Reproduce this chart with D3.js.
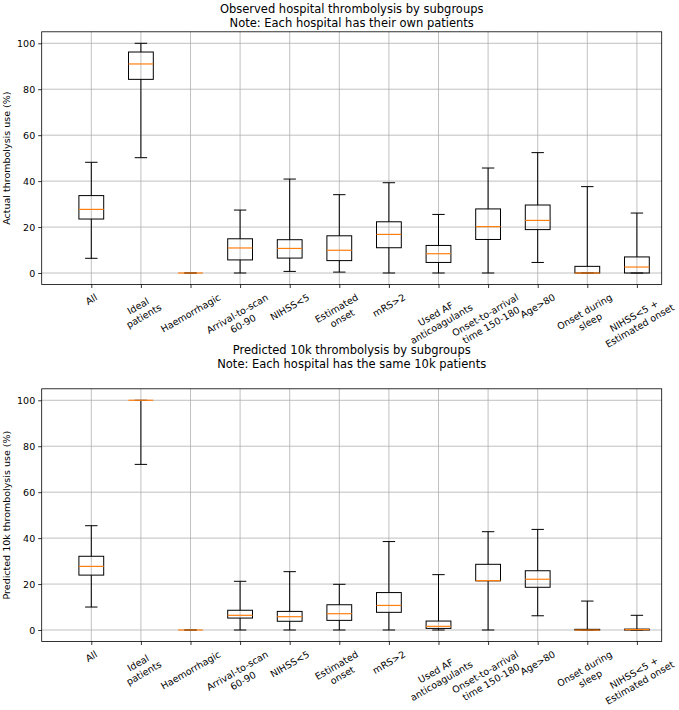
<!DOCTYPE html>
<html>
<head>
<meta charset="utf-8">
<script src="https://cdn.jsdelivr.net/npm/d3@7"></script>
<style>
  body { margin: 0; background: #fff; }
  svg { display: block; font-family: "DejaVu Sans", sans-serif; }
</style>
</head>
<body>
<svg id="chart" width="679" height="710"></svg>
<script>
// ---------------- DATA ----------------
const categories = ["All", "Ideal\npatients", "Haemorrhagic", "Arrival-to-scan\n60-90", "NIHSS<5",
  "Estimated\nonset", "mRS>2", "Used AF\nanticoagulants", "Onset-to-arrival\ntime 150-180",
  "Age>80", "Onset during\nsleep", "NIHSS<5 +\nEstimated onset"];
const yTicks = [0, 20, 40, 60, 80, 100];

// Observed (top)
const obsLow    = [6.4, 50.2, 0, 0,    0.7,  0.4,  0,    0,    0,    4.6,  0,   0];
const obsQ1     = [23.5, 84.3, 0, 5.7, 6.5,  5.4,  11.0, 4.6,  14.6, 18.9, 0,   0];
const obsMedian = [27.7, 91.0, 0, 10.9, 10.7, 9.9, 16.8, 8.4,  20.2, 22.9, 0,   2.6];
const obsQ3     = [33.7, 96.2, 0, 14.9, 14.5, 16.2, 22.3, 12.0, 27.9, 29.6, 2.9, 7.0];
const obsHigh   = [48.2, 100,  0, 27.4, 40.9, 34.1, 39.3, 25.5, 45.7, 52.4, 37.6, 26.1];

// Predicted 10k (bottom)
const predLow    = [10.0, 72.1, 0, 0,   0,   0,    0,    0,    0,    6.2,  0,    0];
const predQ1     = [23.9, 100,  0, 5.2, 3.8, 4.2,  7.7,  0.7,  21.4, 18.6, 0,    0];
const predMedian = [27.7, 100,  0, 6.4, 5.8, 7.1,  10.7, 1.6,  21.5, 22.1, 0,    0.2];
const predQ3     = [32.1, 100,  0, 8.6, 8.1, 11.0, 16.3, 3.9,  28.6, 25.8, 0.3,  0.4];
const predHigh   = [45.4, 100,  0, 21.2, 25.4, 19.9, 38.5, 24.1, 42.8, 43.8, 12.6, 6.4];

// ---------------- DRAW ----------------
const svg = d3.select("#chart");
const left = 41.7, right = 661.7;

function panel(cfg) {
  const x = d3.scaleLinear().domain([0, 12.5]).range([left, right]);
  const y = d3.scaleLinear().domain([-5, 105]).range([cfg.bottom, cfg.top]);
  const g = svg.append("g");

  // titles
  cfg.title.forEach((t, i) => {
    g.append("text").attr("x", (left + right) / 2).attr("y", cfg.titleY + i * 14)
      .attr("text-anchor", "middle").attr("font-size", 11.5).attr("fill", "#000").text(t);
  });

  const positions = categories.map((c, i) => i + 1);

  // grid
  g.append("g").selectAll("line").data(positions).join("line")
    .attr("x1", d => x(d)).attr("x2", d => x(d))
    .attr("y1", cfg.top).attr("y2", cfg.bottom)
    .attr("stroke", "#b0b0b0").attr("stroke-width", 0.8);
  g.append("g").selectAll("line").data(yTicks).join("line")
    .attr("x1", left).attr("x2", right)
    .attr("y1", d => y(d)).attr("y2", d => y(d))
    .attr("stroke", "#b0b0b0").attr("stroke-width", 0.8);

  // y axis
  const yAxis = d3.axisLeft(y).tickValues(yTicks).tickSize(3.5).tickPadding(3);
  const ya = g.append("g").attr("transform", `translate(${left},0)`).call(yAxis);
  ya.select(".domain").remove();
  ya.selectAll("text").attr("font-size", 9.5).attr("fill", "#000").attr("font-family", "DejaVu Sans");
  ya.selectAll("line").attr("stroke", "#000").attr("stroke-width", 0.8);

  // x axis ticks
  const xAxis = d3.axisBottom(x).tickValues(positions).tickSize(3.5).tickFormat("");
  const xa = g.append("g").attr("transform", `translate(0,${cfg.bottom})`).call(xAxis);
  xa.select(".domain").remove();
  xa.selectAll("line").attr("stroke", "#000").attr("stroke-width", 0.8);

  // x labels rotated 30deg, centered bbox
  const fs = 9.5, lh = fs * 1.2;
  categories.forEach((c, i) => {
    const lines = c.split("\n");
    const lg = g.append("g");
    const t = lg.append("text").attr("font-size", fs).attr("text-anchor", "middle").attr("fill", "#000");
    lines.forEach((ln, j) => {
      t.append("tspan").attr("x", 0).attr("y", j * lh).text(ln);
    });
    const bb = t.node().getBBox();
    const a = 30 * Math.PI / 180;
    const H = bb.width * Math.sin(a) + bb.height * Math.cos(a);
    const cx = bb.x + bb.width / 2, cy = bb.y + bb.height / 2;
    const top = cfg.bottom + 3.5 + 3.5;
    lg.attr("transform", `translate(${x(i + 1)},${top + H / 2}) rotate(-30) translate(${-cx},${-cy})`);
  });

  // y label
  g.append("text")
    .attr("transform", `translate(10,${(cfg.top + cfg.bottom) / 2}) rotate(-90)`)
    .attr("text-anchor", "middle").attr("font-size", 9.5).attr("fill", "#000").text(cfg.ylabel);

  // boxes
  const bw = 0.5, cw = 0.25;
  const bx = g.append("g");
  positions.forEach((p, i) => {
    const lo = cfg.low[i], q1 = cfg.q1[i], md = cfg.med[i], q3 = cfg.q3[i], hi = cfg.high[i];
    const stroke = "#000", sw = 1;
    // whiskers
    bx.append("line").attr("x1", x(p)).attr("x2", x(p)).attr("y1", y(q3)).attr("y2", y(hi))
      .attr("stroke", stroke).attr("stroke-width", sw);
    bx.append("line").attr("x1", x(p)).attr("x2", x(p)).attr("y1", y(q1)).attr("y2", y(lo))
      .attr("stroke", stroke).attr("stroke-width", sw);
    // caps
    [lo, hi].forEach(v => {
      bx.append("line").attr("x1", x(p - cw / 2)).attr("x2", x(p + cw / 2)).attr("y1", y(v)).attr("y2", y(v))
        .attr("stroke", stroke).attr("stroke-width", sw);
    });
    // box
    bx.append("rect").attr("x", x(p - bw / 2)).attr("width", x(p + bw / 2) - x(p - bw / 2))
      .attr("y", y(q3)).attr("height", Math.max(0, y(q1) - y(q3)))
      .attr("fill", "none").attr("stroke", stroke).attr("stroke-width", sw);
    // median
    bx.append("line").attr("x1", x(p - bw / 2)).attr("x2", x(p + bw / 2)).attr("y1", y(md)).attr("y2", y(md))
      .attr("stroke", "#ff7f0e").attr("stroke-width", 1.2);
  });

  // spines
  g.append("rect").attr("x", left).attr("y", cfg.top).attr("width", right - left).attr("height", cfg.bottom - cfg.top)
    .attr("fill", "none").attr("stroke", "#000").attr("stroke-width", 0.8);
}

panel({ top: 31.8, bottom: 284.5, titleY: 13, title: ["Observed hospital thrombolysis by subgroups", "Note: Each hospital has their own patients"],
  ylabel: "Actual thrombolysis use (%)", low: obsLow, q1: obsQ1, med: obsMedian, q3: obsQ3, high: obsHigh });
panel({ top: 388.8, bottom: 641.5, titleY: 354, title: ["Predicted 10k thrombolysis by subgroups", "Note: Each hospital has the same 10k patients"],
  ylabel: "Predicted 10k thrombolysis use (%)", low: predLow, q1: predQ1, med: predMedian, q3: predQ3, high: predHigh });
</script>
</body>
</html>
